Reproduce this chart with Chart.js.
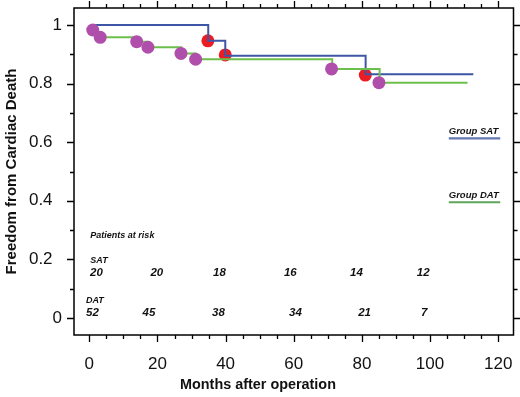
<!DOCTYPE html>
<html>
<head>
<meta charset="utf-8">
<script src="https://cdn.jsdelivr.net/npm/chart.js@4.4.1/dist/chart.umd.min.js"></script>
<style>
  html, body { margin: 0; padding: 0; background: #fff; }
  #wrap { width: 520px; height: 397px; position: relative; }
</style>
</head>
<body>
<div id="wrap"><canvas id="kmChart"></canvas></div>
<script>
// --- data ---
const xTicks = [0, 20, 40, 60, 80, 100, 120];
const yTicks = [0, 0.2, 0.4, 0.6, 0.8, 1];

// Kaplan-Meier steps (months, survival)
const satTime = [1, 34.9, 39.9, 81.1, 112.7];
const satSurv = [1.0, 0.946, 0.895, 0.832, 0.832];
const datTime = [3.2, 14, 17.2, 27, 31.2, 71.3, 85.2, 111];
const datSurv = [0.958, 0.943, 0.924, 0.903, 0.883, 0.85, 0.803, 0.803];

// event markers
const satEventTime = [34.8, 39.9, 81.0];
const satEventSurv = [0.946, 0.898, 0.829];
const datEventTime = [1, 3.2, 13.9, 17.2, 26.9, 31.2, 71.1, 85.0];
const datEventSurv = [0.983, 0.958, 0.943, 0.924, 0.903, 0.883, 0.85, 0.803];

// patients at risk
const riskSat = [20, 20, 18, 16, 14, 12];
const riskSatAt = [2.1, 19.8, 38.2, 59, 78.4, 98];
const riskDat = [52, 45, 38, 34, 21, 7];
const riskDatAt = [0.9, 17.5, 37.9, 60.5, 80.8, 98.3];

const colSat = '#3d57a6';
const colDat = '#6cbf4b';
const colDatEvt = '#b04fab';
const colSatEvt = '#ec1c24';

function pts(xs, ys) {
    return xs.map((x, i) => ({ x: x, y: ys[i] }));
}

// ticks, box, legend and risk table
const decorPlugin = {
    id: 'decor',
    afterDraw(chart) {
        const ctx = chart.ctx;
        const a = chart.chartArea;
        const xs = chart.scales.x;
        const ys = chart.scales.y;
        ctx.save();
        ctx.strokeStyle = '#000';
        ctx.lineWidth = 1.5;
        ctx.strokeRect(a.left, a.top, a.right - a.left, a.bottom - a.top);

        // outward ticks on all four sides
        ctx.lineWidth = 1.3;
        ctx.beginPath();
        for (let v = 0; v <= 120; v += 5) {
            const px = Math.round(xs.getPixelForValue(v)) + 0.5;
            const len = v % 20 === 0 ? 7 : 4;
            ctx.moveTo(px, a.bottom); ctx.lineTo(px, a.bottom + len);
            ctx.moveTo(px, a.top); ctx.lineTo(px, a.top - len);
        }
        for (let i = 0; i <= 10; i++) {
            const py = Math.round(ys.getPixelForValue(i / 10)) + 0.5;
            const len = i % 2 === 0 ? 7 : 4;
            ctx.moveTo(a.left, py); ctx.lineTo(a.left - len, py);
            ctx.moveTo(a.right, py); ctx.lineTo(a.right + len, py);
        }
        ctx.stroke();

        // legend
        ctx.fillStyle = '#111';
        ctx.font = 'italic bold 9.5px "Liberation Sans", Arial, sans-serif';
        ctx.textBaseline = 'middle';
        ctx.textAlign = 'left';
        const lx0 = xs.getPixelForValue(105.5);
        const lx1 = xs.getPixelForValue(120.6);
        ctx.fillText('Group SAT', lx0, ys.getPixelForValue(0.636));
        ctx.fillText('Group DAT', lx0, ys.getPixelForValue(0.42));
        ctx.lineWidth = 2.2;
        ctx.strokeStyle = '#6276b0';
        ctx.beginPath();
        ctx.moveTo(lx0, ys.getPixelForValue(0.613)); ctx.lineTo(lx1, ys.getPixelForValue(0.613));
        ctx.stroke();
        ctx.strokeStyle = '#5ea65a';
        ctx.beginPath();
        ctx.moveTo(lx0, ys.getPixelForValue(0.395)); ctx.lineTo(lx1, ys.getPixelForValue(0.395));
        ctx.stroke();

        // patients at risk
        ctx.font = 'italic bold 9px "Liberation Sans", Arial, sans-serif';
        ctx.fillText('Patients at risk', xs.getPixelForValue(0.3), ys.getPixelForValue(0.283));
        ctx.fillText('SAT', xs.getPixelForValue(0.3), ys.getPixelForValue(0.195));
        ctx.fillText('DAT', xs.getPixelForValue(-1), ys.getPixelForValue(0.061));
        ctx.font = 'italic bold 11.5px "Liberation Sans", Arial, sans-serif';
        ctx.textAlign = 'center';
        riskSat.forEach((n, i) => {
            ctx.fillText(String(n), xs.getPixelForValue(riskSatAt[i]), ys.getPixelForValue(0.153));
        });
        riskDat.forEach((n, i) => {
            ctx.fillText(String(n), xs.getPixelForValue(riskDatAt[i]), ys.getPixelForValue(0.019));
        });

        // x axis title
        ctx.font = 'bold 14.4px "Liberation Sans", Arial, sans-serif';
        ctx.fillText('Months after operation', 258, 385);
        ctx.restore();
    }
};

// drop the label overhang chart.js reserves so the box can reach the edges
function noOverhang(scale) {
    scale.paddingTop = 0;
    scale.paddingBottom = 0;
    scale.paddingLeft = 0;
    scale.paddingRight = 0;
}

const ctx = document.getElementById('kmChart').getContext('2d');
new Chart(ctx, {
    type: 'line',
    data: {
        datasets: [
            {
                label: 'Group SAT',
                data: pts(satTime, satSurv),
                borderColor: colSat,
                borderWidth: 2,
                pointRadius: 0,
                stepped: true,
                fill: false,
                order: 3
            },
            {
                label: 'Group DAT',
                data: pts(datTime, datSurv),
                borderColor: colDat,
                borderWidth: 2,
                pointRadius: 0,
                stepped: true,
                fill: false,
                order: 2
            },
            {
                label: 'SAT events',
                data: pts(satEventTime, satEventSurv),
                showLine: false,
                pointRadius: 6.5,
                pointBorderWidth: 0,
                pointBackgroundColor: colSatEvt,
                pointBorderColor: colSatEvt,
                order: 4
            },
            {
                label: 'DAT events',
                data: pts(datEventTime, datEventSurv),
                showLine: false,
                pointRadius: 6.5,
                pointBorderWidth: 0,
                pointBackgroundColor: colDatEvt,
                pointBorderColor: colDatEvt,
                order: 1
            }
        ]
    },
    options: {
        responsive: true,
        maintainAspectRatio: false,
        animation: false,
        layout: { padding: { left: 0, right: 5, top: 8, bottom: 0 } },
        plugins: {
            legend: { display: false },
            tooltip: { enabled: false }
        },
        scales: {
            x: {
                type: 'linear',
                min: -4.5,
                max: 124.5,
                afterBuildTicks: (scale) => { scale.ticks = xTicks.map(v => ({ value: v })); },
                afterFit: (scale) => { scale.height = 62; noOverhang(scale); },
                grid: { display: false, drawTicks: false },
                border: { display: false },
                ticks: {
                    color: '#111',
                    padding: 19,
                    maxRotation: 0,
                    font: { family: '"Liberation Sans Narrow", "Liberation Sans", Arial', size: 17 }
                }
            },
            y: {
                type: 'linear',
                min: -0.058,
                max: 1.058,
                afterBuildTicks: (scale) => { scale.ticks = yTicks.map(v => ({ value: v })); },
                afterFit: (scale) => { scale.width = 74; noOverhang(scale); },
                grid: { display: false, drawTicks: false },
                border: { display: false },
                ticks: {
                    color: '#111',
                    padding: 12,
                    font: { family: '"Liberation Sans Narrow", "Liberation Sans", Arial', size: 17 },
                    callback: (v) => (v === 0 || v === 1) ? String(v) : v.toFixed(1) + '  '
                },
                title: {
                    display: true,
                    text: 'Freedom from Cardiac Death',
                    color: '#111',
                    font: { family: '"Liberation Sans", Arial', size: 15, weight: 'bold' },
                    padding: { top: 3, bottom: 0 }
                }
            }
        }
    },
    plugins: [decorPlugin]
});
</script>
</body>
</html>
